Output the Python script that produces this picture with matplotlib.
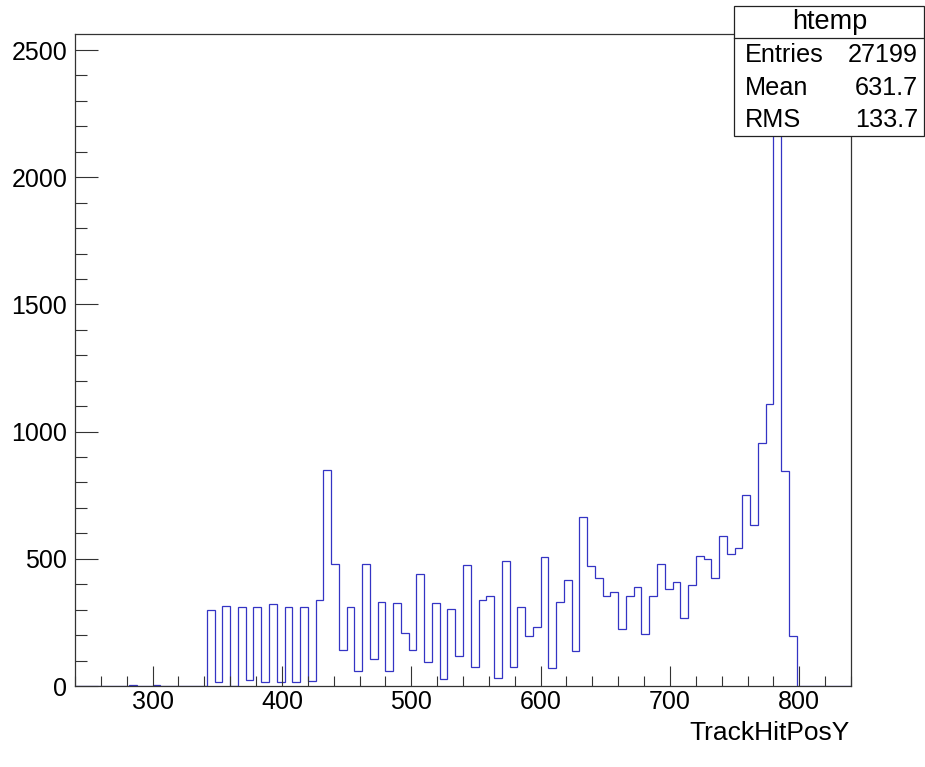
import numpy as np
import matplotlib
matplotlib.use("Agg")
import matplotlib.pyplot as plt
from matplotlib.patches import Rectangle
from matplotlib.lines import Line2D
from matplotlib.ticker import MultipleLocator

# ---- data ----
bin_low = 240
bin_width = 6
counts = [
    0, 0, 0, 0, 0, 0, 0, 5, 0, 0,            # 240-300
    3, 0, 0, 0, 0, 0, 0, 298, 16, 314,       # 300-360
    0, 309, 23, 309, 16, 322, 16, 311, 16, 311,   # 360-420
    20, 338, 850, 478, 141, 309, 59, 478, 107, 331,  # 420-480
    59, 326, 209, 141, 442, 96, 328, 26, 302, 116,   # 480-540
    475, 76, 338, 352, 31, 491, 76, 311, 196, 230,   # 540-600
    509, 69, 330, 416, 136, 666, 470, 425, 355, 369, # 600-660
    224, 355, 391, 204, 355, 479, 382, 410, 267, 397,# 660-720
    512, 500, 424, 590, 518, 544, 750, 633, 955, 1109,  # 720-780
    2412, 847, 195, 0, 0, 0, 0, 0, 0, 0,     # 780-840
]
hist_name = "htemp"
x_title = "TrackHitPosY"
stat_labels = ["Entries", "Mean", "RMS"]
stat_values = ["27199", "631.7", "133.7"]

edges = bin_low + bin_width * np.arange(len(counts) + 1)

W, H = 925, 767
fig = plt.figure(figsize=(W / 100, H / 100), dpi=100)
plt.rcParams['font.family'] = ['Liberation Sans', 'DejaVu Sans']

L, R, T, B = 75, 851, 34, 686
ax = fig.add_axes([L / W, 1 - B / H, (R - L) / W, (B - T) / H])
ax.stairs(counts, edges, color='#3434c4', linewidth=0.9, baseline=0)
ax.set_xlim(240, 840)
ax.set_ylim(0, 2563)

ax.xaxis.set_major_locator(MultipleLocator(100))
ax.xaxis.set_minor_locator(MultipleLocator(20))
ax.yaxis.set_major_locator(MultipleLocator(500))
ax.yaxis.set_minor_locator(MultipleLocator(100))
ax.tick_params(axis='x', which='major', direction='in', length=14.4, width=0.8,
               labelsize=18, pad=3.2, color='#333333')
ax.tick_params(axis='x', which='minor', direction='in', length=7.2, width=0.8, color='#333333')
ax.tick_params(axis='y', which='major', direction='in', length=16.6, width=0.8,
               labelsize=18, pad=5.5, color='#333333')
ax.tick_params(axis='y', which='minor', direction='in', length=8.6, width=0.8, color='#333333')
ax.tick_params(top=False, right=False, which='both')
for s in ax.spines.values():
    s.set_linewidth(0.9)
    s.set_color('#333333')

fig.text(850 / W, 1 - 740 / H, x_title, ha='right', va='baseline', fontsize=19)

# stat box
bx0, bx1, by0, by1, bdiv = 734, 924, 6, 136, 38
fig.patches.append(Rectangle((bx0 / W, 1 - by1 / H), (bx1 - bx0) / W, (by1 - by0) / H,
                             transform=fig.transFigure, facecolor='white',
                             edgecolor='#222222', linewidth=0.9, zorder=5))
fig.lines.append(Line2D([bx0 / W, bx1 / W], [1 - bdiv / H, 1 - bdiv / H],
                        transform=fig.transFigure, color='#222222', linewidth=0.9, zorder=6))
fig.text(830 / W, 1 - 22 / H, hist_name, ha='center', va='center', fontsize=19.5, zorder=7)
for i, (lab, val) in enumerate(zip(stat_labels, stat_values)):
    yc = [55, 88, 120][i]
    fig.text(745 / W, 1 - yc / H, lab, ha='left', va='center', fontsize=18.2, zorder=7)
    fig.text(918 / W, 1 - yc / H, val, ha='right', va='center', fontsize=18.2, zorder=7)

fig.savefig("out.png", dpi=100)
